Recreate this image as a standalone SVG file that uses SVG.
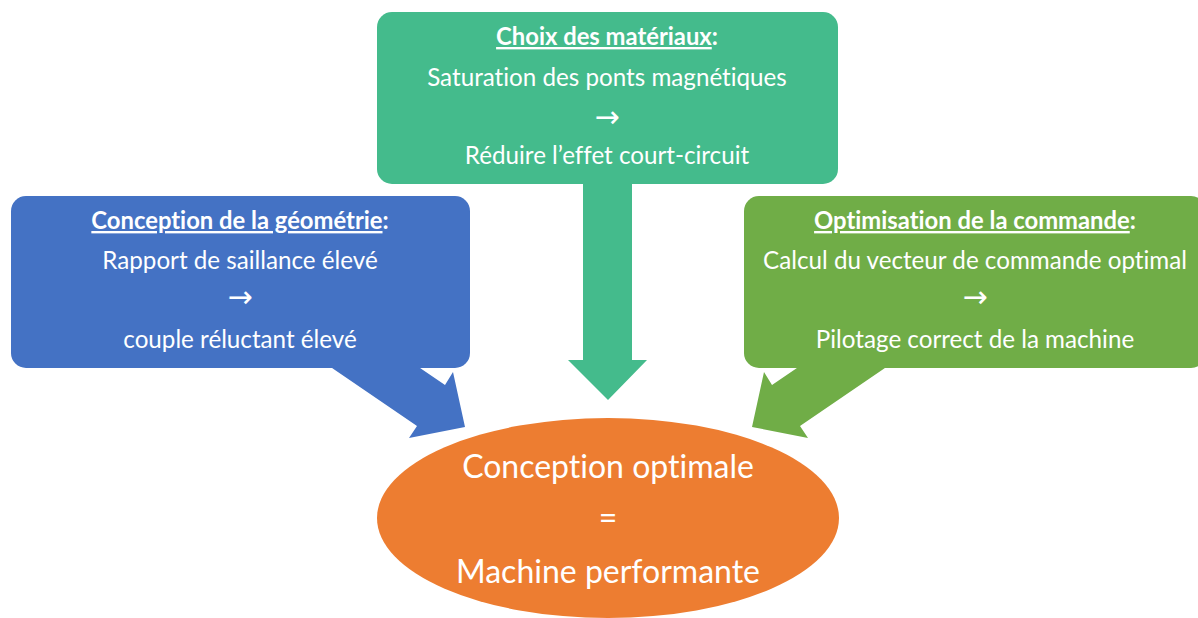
<svg xmlns="http://www.w3.org/2000/svg" width="1198" height="618" viewBox="0 0 1198 618">
<style>
text{font-family:Lato,"Open Sans","Liberation Sans",sans-serif;fill:#ffffff;text-anchor:middle;font-variant-ligatures:none;font-feature-settings:"liga" 0}
.b{font-size:24.2px}
.t{font-size:23.8px;font-weight:bold}
.u{text-decoration:underline}
.a{font-family:"DejaVu Sans",sans-serif;font-size:30px}
.e{font-size:32px}
</style>
<rect width="1198" height="618" fill="#ffffff"/>
<g id="connectors">
<polygon fill="#4472C4" points="313,355 401,355 445,385 453,372 465,427 409,438 417,426"/>
<polygon fill="#70AD47" points="904,355 816,355 772,385 764,372 752,427 808,438 800,426"/>
<polygon fill="#44BB8C" points="583,180 632,180 632,360 647,360 608,400 568,360 583,360"/>
</g>
<g id="node-materiaux">
<rect x="377" y="12" width="461" height="172" rx="15" fill="#44BB8C"/>
<text class="t" x="607" y="45"><tspan class="u">Choix des matériaux</tspan>:</text>
<text class="b" x="607" y="86">Saturation des ponts magnétiques</text>
<text class="a" x="607" y="127">→</text>
<text class="b" x="607" y="164">Réduire l’effet court-circuit</text>
</g>
<g id="node-geometrie">
<rect x="11" y="196" width="459" height="172" rx="15" fill="#4472C4"/>
<text class="t" x="240" y="229"><tspan class="u">Conception de la géométrie</tspan>:</text>
<text class="b" x="240" y="269">Rapport de saillance élevé</text>
<text class="a" x="240" y="307">→</text>
<text class="b" x="240" y="348">couple réluctant élevé</text>
</g>
<g id="node-commande">
<rect x="744" y="196" width="462" height="172" rx="15" fill="#70AD47"/>
<text class="t" x="975" y="229"><tspan class="u">Optimisation de la commande</tspan>:</text>
<text class="b" x="975" y="269">Calcul du vecteur de commande optimal</text>
<text class="a" x="975" y="307">→</text>
<text class="b" x="975" y="348">Pilotage correct de la machine</text>
</g>
<g id="node-resultat">
<ellipse cx="608" cy="518" rx="231" ry="100" fill="#ED7D31"/>
<text class="e" x="608" y="478">Conception optimale</text>
<text class="e" x="608" y="529">=</text>
<text class="e" x="608" y="583">Machine performante</text>
</g>
</svg>
